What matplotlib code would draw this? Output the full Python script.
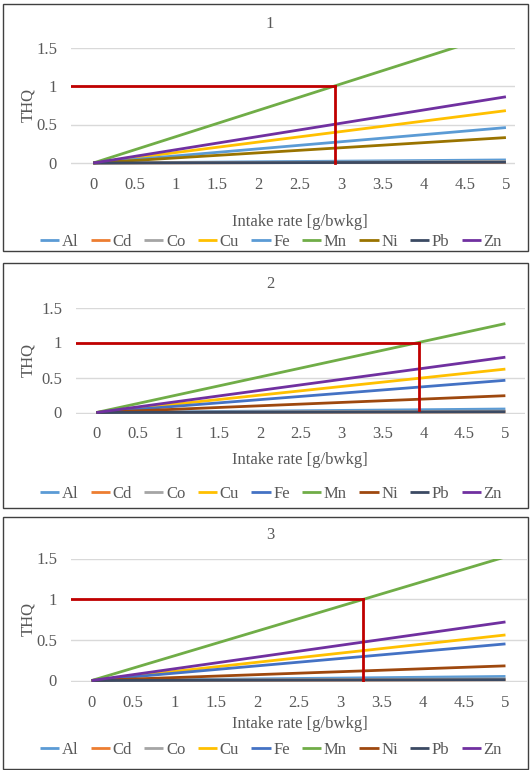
import matplotlib
matplotlib.use("Agg")
import matplotlib.pyplot as plt
from matplotlib.patches import Rectangle

plt.rcParams['font.family'] = ['Liberation Serif', 'DejaVu Serif']

# data: THQ at intake 0 and 5 g/bwkg (straight lines)
metals = ["Al", "Cd", "Co", "Cu", "Fe", "Mn", "Ni", "Pb", "Zn"]
intake = [0, 5]
thq1_end = [0.04, 0.01, 0.02, 0.68, 0.46, 1.71, 0.33, 0.01, 0.86]
thq2_end = [0.05, 0.01, 0.02, 0.62, 0.46, 1.27, 0.24, 0.01, 0.79]
thq3_end = [0.05, 0.01, 0.02, 0.56, 0.45, 1.52, 0.18, 0.01, 0.72]
cross_x = [2.93, 3.95, 3.28]   # where Mn hits THQ = 1
titles = ["1", "2", "3"]
xticks = [0, 0.5, 1, 1.5, 2, 2.5, 3, 3.5, 4, 4.5, 5]
xtick_labels = ["0", "0.5", "1", "1.5", "2", "2.5", "3", "3.5", "4", "4.5", "5"]
yticks = [0, 0.5, 1, 1.5]
ytick_labels = ["0", "0.5", "1", "1.5"]

colors1 = ["#5B9BD5", "#ED7D31", "#A5A5A5", "#FFC000", "#5B9BD5", "#70AD47", "#997300", "#3B4A63", "#7030A0"]
colors23 = ["#5B9BD5", "#ED7D31", "#A5A5A5", "#FFC000", "#4472C4", "#70AD47", "#9E480E", "#3B4A63", "#7030A0"]

W, H = 532, 770
fig = plt.figure(figsize=(W / 100, H / 100), dpi=100)

# pixel layout of each panel: box top/bottom, axes left/right px, y0/y1.5 px, x-limits,
# title, xlabel and legend rows
panels = [
    dict(end=thq1_end, colors=colors1, box=(4, 251), ax_px=(71, 515), y_px=(163, 47.5),
         xlim=(-0.27, 5.11), title_y=24, xl_y=222, leg_y=242, red_bottom=0.0),
    dict(end=thq2_end, colors=colors23, box=(263, 508), ax_px=(76, 525), y_px=(412.5, 307.5),
         xlim=(-0.25, 5.24), title_y=284, xl_y=460, leg_y=494, red_bottom=0.03),
    dict(end=thq3_end, colors=colors23, box=(517, 769), ax_px=(71, 527), y_px=(680.5, 558.5),
         xlim=(-0.25, 5.26), title_y=535, xl_y=724, leg_y=750, red_bottom=0.0),
]

fs = 12
grey = "#595959"
for i, p in enumerate(panels):
    # frame around each chart
    top, bot = p["box"]
    fig.add_artist(Rectangle((3 / W, 1 - bot / H), 525 / W, (bot - top) / H,
                             transform=fig.transFigure, fill=False,
                             edgecolor="#404040", linewidth=1.0))

    y0, y15 = p["y_px"]
    ylo = -0.02
    ppu = (y0 - y15) / 1.5
    ax_bot = y0 + (0 - ylo) * ppu
    left, right = p["ax_px"]
    ax = fig.add_axes([left / W, 1 - ax_bot / H, (right - left) / W, (ax_bot - y15) / H])
    ax.set_xlim(*p["xlim"])
    ax.set_ylim(ylo, 1.5)

    for name, v, c in zip(metals, p["end"], p["colors"]):
        ax.plot(intake, [0, v], color=c, lw=2.0, label=name, solid_capstyle="butt")

    # red threshold guide
    ax.plot([p["xlim"][0], cross_x[i]], [1, 1], color="#C00000", lw=2.0)
    ax.plot([cross_x[i], cross_x[i]], [1, p["red_bottom"]], color="#C00000", lw=2.0)

    ax.set_yticks(yticks)
    ax.set_yticklabels(ytick_labels, fontsize=fs, color=grey)
    ax.set_xticks(xticks)
    ax.set_xticklabels(xtick_labels, fontsize=fs, color=grey)
    ax.grid(axis="y", color="#D9D9D9", lw=1)
    ax.set_axisbelow(True)
    ax.tick_params(axis="x", length=0, pad=9)
    ax.tick_params(axis="y", length=0, pad=10)
    for s in ax.spines.values():
        s.set_visible(False)

    fig.text(28 / W, 1 - (y0 + y15) / 2 / H, "THQ", rotation=90, ha="center", va="center",
             fontsize=fs, color=grey)
    fig.text(270 / W, 1 - p["title_y"] / H, titles[i], ha="center", va="center",
             fontsize=fs, color=grey)
    fig.text(300 / W, 1 - p["xl_y"] / H, "Intake rate [g/bwkg]", ha="center", va="center",
             fontsize=fs, color=grey)

    handles, labels = ax.get_legend_handles_labels()
    leg = fig.legend(handles, labels, loc="center", bbox_to_anchor=(271 / W, 1 - p["leg_y"] / H),
                     ncol=9, frameon=False, fontsize=fs, handlelength=1.15,
                     handletextpad=0.15, columnspacing=0.75, borderpad=0)
    for t in leg.get_texts():
        t.set_color(grey)

fig.savefig("out.png", dpi=100)
